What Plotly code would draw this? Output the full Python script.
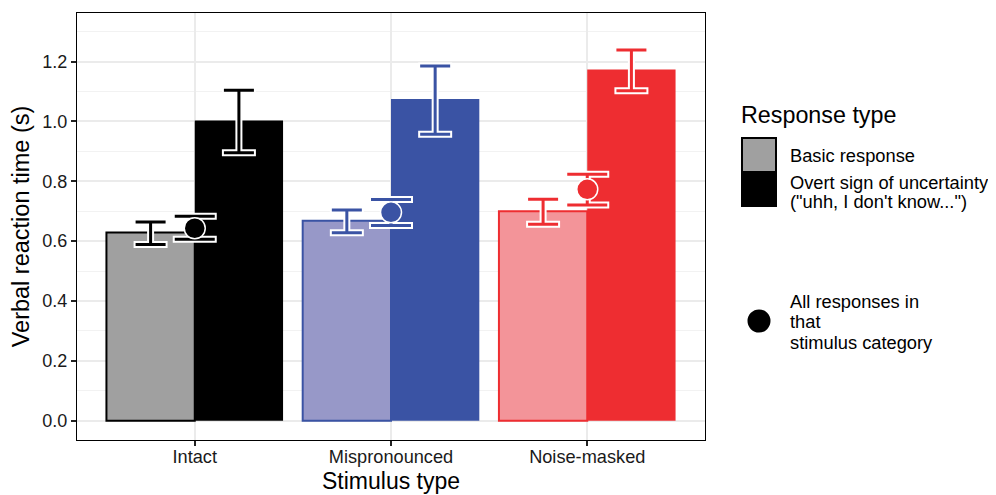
import plotly.graph_objects as go
import numpy as np

categories = ["Intact", "Mispronounced", "Noise-masked"]
basic_mean = [0.629, 0.668, 0.700]
basic_lo = [0.589, 0.628, 0.656]
basic_hi = [0.664, 0.704, 0.740]
unc_mean = [1.003, 1.075, 1.173]
unc_lo = [0.895, 0.957, 1.102]
unc_hi = [1.104, 1.185, 1.238]
all_mean = [0.643, 0.696, 0.773]
all_lo = [0.606, 0.652, 0.721]
all_hi = [0.683, 0.739, 0.823]
y_ticks = [0.0, 0.2, 0.4, 0.6, 0.8, 1.0, 1.2]

dark_cols = ["#000000", "#3A53A4", "#EE2D31"]
light_cols = ["#A0A0A0", "#9798C8", "#F39499"]

FONT = "Liberation Sans, Arial, sans-serif"
# the page body adds an 8px margin; the figure is sized so it fits the window
OFF = 8
W, H = 996 - OFF, 495 - OFF
ML, MT = 77 - OFF, 13 - OFF
PR, PB = 705 - OFF, 440 - OFF
MR, MB = W - PR, H - PB
PW, PH = W - ML - MR, H - MT - MB

xpos = np.arange(len(categories)) + 1.0
dodge = 0.225
bw = 0.45

fig = go.Figure()

fig.add_trace(go.Bar(x=xpos - dodge, y=basic_mean, width=bw,
                     marker=dict(color=light_cols, line=dict(color=dark_cols, width=2)),
                     showlegend=False, hoverinfo="skip"))
fig.add_trace(go.Bar(x=xpos + dodge, y=unc_mean, width=bw,
                     marker=dict(color=dark_cols, line=dict(color=dark_cols, width=0)),
                     showlegend=False, hoverinfo="skip"))


def err_trace(xs, mean, lo, hi, color, width, thickness):
    return go.Scatter(
        x=xs, y=mean, mode="markers", marker=dict(size=1, opacity=0),
        error_y=dict(type="data", symmetric=False,
                     array=[h - m for h, m in zip(hi, mean)],
                     arrayminus=[m - l for m, l in zip(mean, lo)],
                     color=color, width=width, thickness=thickness),
        showlegend=False, hoverinfo="skip")


for i in range(len(categories)):
    xb = [xpos[i] - dodge, xpos[i] + dodge]
    mb = [basic_mean[i], unc_mean[i]]
    lb = [basic_lo[i], unc_lo[i]]
    hb = [basic_hi[i], unc_hi[i]]
    fig.add_trace(err_trace(xb, mb, lb, hb, "white", 17, 7))
    fig.add_trace(err_trace(xb, mb, lb, hb, dark_cols[i], 15, 3))
    fig.add_trace(err_trace([xpos[i]], [all_mean[i]], [all_lo[i]], [all_hi[i]], "white", 22, 7))
    fig.add_trace(err_trace([xpos[i]], [all_mean[i]], [all_lo[i]], [all_hi[i]], dark_cols[i], 20, 3))

fig.add_trace(go.Scatter(x=xpos, y=all_mean, mode="markers",
                         marker=dict(size=21, color=dark_cols, line=dict(color="white", width=1.5)),
                         showlegend=False, hoverinfo="skip"))


def px(x):
    return (x - OFF - ML) / PW


def py(y):
    return (H - MB - (y - OFF)) / PH


shapes = []
annotations = []
shapes.append(dict(type="rect", xref="paper", yref="paper",
                   x0=px(742), x1=px(776), y0=py(172), y1=py(138),
                   fillcolor=light_cols[0], line=dict(color="black", width=2)))
shapes.append(dict(type="rect", xref="paper", yref="paper",
                   x0=px(741), x1=px(777), y0=py(207), y1=py(173),
                   fillcolor="black", line=dict(width=0)))
shapes.append(dict(type="circle", xref="paper", yref="paper",
                   x0=px(747.5), x1=px(770.5), y0=py(332.5), y1=py(309.5),
                   fillcolor="black", line=dict(width=0)))


def txt(x, y, s, size, anchor="left"):
    annotations.append(dict(x=px(x), y=py(y), xref="paper", yref="paper", text=s,
                            showarrow=False, xanchor=anchor, yanchor="middle",
                            font=dict(family=FONT, size=size, color="black")))


txt(739, 115, "Response type", 23.3)
txt(788, 155, "Basic response", 18.3)
txt(788, 182, "Overt sign of uncertainty", 18.3)
txt(788, 201, "(\"uhh, I don't know...\")", 18.3)
txt(788, 301, "All responses in", 18.3)
txt(788, 321, "that", 18.3)
txt(788, 342, "stimulus category", 18.3)
# x-axis title
txt((77 + 705) / 2, 481, "Stimulus type", 23, anchor="center")

fig.update_layout(
    width=W, height=H,
    margin=dict(l=ML, r=MR, t=MT, b=MB),
    plot_bgcolor="white", paper_bgcolor="white",
    barmode="overlay",
    shapes=shapes, annotations=annotations,
    font=dict(family=FONT, color="black"),
    xaxis=dict(range=[0.4, 3.6], tickvals=list(xpos), ticktext=categories,
               showgrid=True, gridcolor="#EBEBEB", gridwidth=1.5,
               showline=True, mirror=True, linecolor="black", linewidth=1.3,
               ticks="outside", ticklen=5, tickwidth=2, tickcolor="#222",
               ticklabelstandoff=-5,
               tickfont=dict(family=FONT, size=18.2, color="#1a1a1a"),
               zeroline=False, automargin=False),
    yaxis=dict(range=[-0.0644, 1.362], tickvals=y_ticks, tickformat=".1f",
               showgrid=True, gridcolor="#EBEBEB", gridwidth=1.5,
               minor=dict(dtick=0.1, tick0=0.1, showgrid=True, gridcolor="#F2F2F2", gridwidth=1),
               showline=True, mirror=True, linecolor="black", linewidth=1.3,
               ticks="outside", ticklen=5, tickwidth=2, tickcolor="#222",
               tickfont=dict(family=FONT, size=18, color="#1a1a1a"),
               title=dict(text="Verbal reaction time (s)", font=dict(family=FONT, size=23.5, color="black"),
                          standoff=6),
               zeroline=False, automargin=False),
)

fig.write_html("out.html")
